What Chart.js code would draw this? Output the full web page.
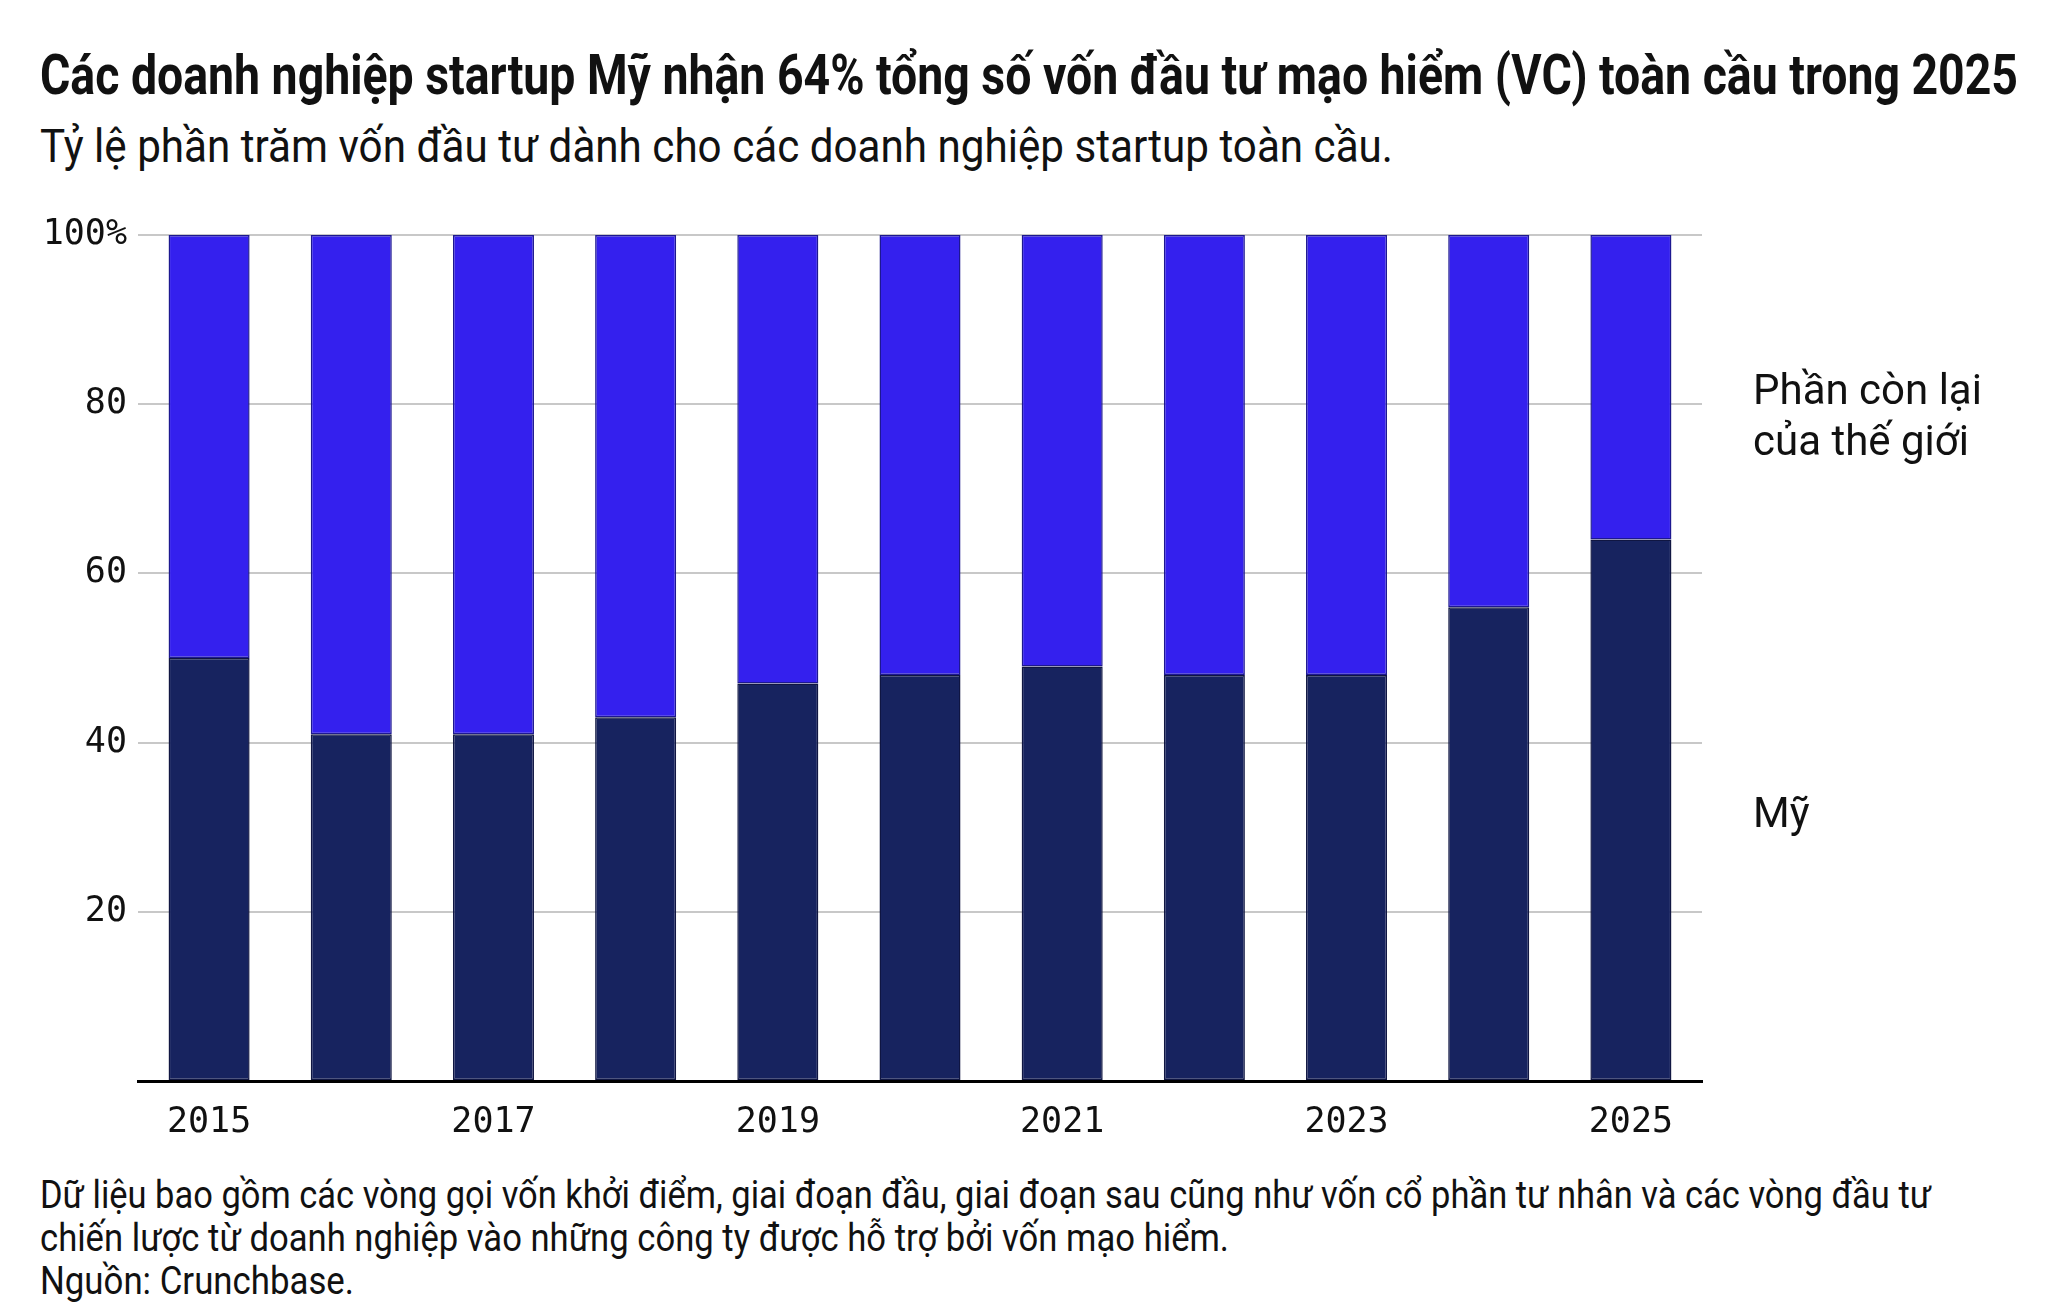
<!DOCTYPE html>
<html>
<head>
<meta charset="utf-8">
<script src="https://cdn.jsdelivr.net/npm/chart.js@4/dist/chart.umd.min.js"></script>
<style>
    html, body { margin: 0; padding: 0; background: #fff; }
    body { width: 2048px; height: 1314px; position: relative; overflow: hidden; font-family: Roboto, "Noto Sans", sans-serif; color: #111; }
    .txt { position: absolute; left: 40px; white-space: nowrap; display: inline-block; transform-origin: left top; }
    #title { top: 47px; font-size: 56px; line-height: 56px; font-weight: 700; }
    #subtitle { top: 123px; font-size: 46px; line-height: 46px; }
    .note { font-size: 38px; line-height: 38px; }
    #chartBox { position: absolute; left: 0; top: 200px; width: 2048px; height: 960px; }
</style>
</head>
<body>
<div id="title" class="txt" data-w="1978">Các doanh nghiệp startup Mỹ nhận 64% tổng số vốn đầu tư mạo hiểm (VC) toàn cầu trong 2025</div>
<div id="subtitle" class="txt" data-w="1353">Tỷ lệ phần trăm vốn đầu tư dành cho các doanh nghiệp startup toàn cầu.</div>
<div class="txt note" style="top:1176px" data-w="1891">Dữ liệu bao gồm các vòng gọi vốn khởi điểm, giai đoạn đầu, giai đoạn sau cũng như vốn cổ phần tư nhân và các vòng đầu tư</div>
<div class="txt note" style="top:1219px" data-w="1189">chiến lược từ doanh nghiệp vào những công ty được hỗ trợ bởi vốn mạo hiểm.</div>
<div class="txt note" style="top:1262px" data-w="314">Nguồn: Crunchbase.</div>
<div id="chartBox"><canvas id="chart"></canvas></div>
<script>
    const years = ['2015', '2016', '2017', '2018', '2019', '2020', '2021', '2022', '2023', '2024', '2025'];
    const usShare = [50, 41, 41, 43, 47, 48, 49, 48, 48, 56, 64];
    const restShare = [50, 59, 59, 57, 53, 52, 51, 52, 52, 44, 36];
    const usLabel = ['Mỹ'];
    const restLabel = ['Phần còn lại', 'của thế giới'];
    const yTicks = [0, 20, 40, 60, 80, 100];

    // squeeze the html text lines to the widths seen in the picture
    document.querySelectorAll('.txt').forEach(function (el) {
        const w = el.getBoundingClientRect().width;
        el.style.transform = 'scaleX(' + (el.dataset.w / w) + ')';
    });

    // labels beside the last bar
    const sideLabels = {
        id: 'sideLabels',
        afterDatasetsDraw(chart) {
            const ctx = chart.ctx;
            const y = chart.scales.y;
            const last = years.length - 1;
            const x0 = 1753;
            const usMid = y.getPixelForValue(usShare[last] / 2) + 6;
            const restMid = y.getPixelForValue(usShare[last] + restShare[last] / 2) + 6;
            ctx.save();
            ctx.fillStyle = '#111';
            ctx.font = '42px Roboto';
            ctx.textAlign = 'left';
            ctx.textBaseline = 'middle';
            usLabel.forEach((s, i) => ctx.fillText(s, x0, usMid + i * 51));
            restLabel.forEach((s, i) => ctx.fillText(s, x0, restMid + i * 51, 232));
            ctx.restore();
        }
    };

    new Chart(document.getElementById('chart'), {
        type: 'bar',
        data: {
            labels: years,
            datasets: [{
                label: 'Mỹ',
                data: usShare,
                backgroundColor: '#17235f',
                borderColor: '#101642',
                borderWidth: 1.5,
                borderSkipped: false
            }, {
                label: 'Phần còn lại của thế giới',
                data: restShare,
                backgroundColor: '#3420ee',
                borderColor: '#1d1890',
                borderWidth: 1.5,
                borderSkipped: false
            }]
        },
        options: {
            responsive: true,
            maintainAspectRatio: false,
            animation: false,
            layout: { padding: { top: 35, right: 346, left: 0, bottom: 0 } },
            datasets: { bar: { categoryPercentage: 1, barPercentage: 0.57 } },
            plugins: { legend: { display: false }, tooltip: { enabled: false } },
            scales: {
                x: {
                    stacked: true,
                    grid: { display: false, drawTicks: false },
                    border: { display: true, color: '#000', width: 3 },
                    ticks: {
                        autoSkip: false,
                        maxRotation: 0,
                        padding: 21,
                        color: '#111',
                        font: { family: '"DejaVu Sans Mono"', size: 35 },
                        callback: function (v, i) { return i % 2 === 0 ? years[i] : ''; }
                    },
                    afterFit: function (s) { s.height = 79; }
                },
                y: {
                    stacked: true,
                    min: 0,
                    max: 100,
                    afterBuildTicks: function (s) { s.ticks = yTicks.map(v => ({ value: v })); },
                    grid: { color: '#c8c8c8', lineWidth: 2, drawTicks: false },
                    border: { display: false },
                    ticks: {
                        padding: 11,
                        color: '#111',
                        font: { family: '"DejaVu Sans Mono"', size: 35 },
                        callback: function (v) { return v === 0 ? '' : (v === 100 ? '100%' : v); }
                    },
                    afterFit: function (s) { s.width = 138; }
                }
            }
        },
        plugins: [sideLabels]
    });
</script>
</body>
</html>
